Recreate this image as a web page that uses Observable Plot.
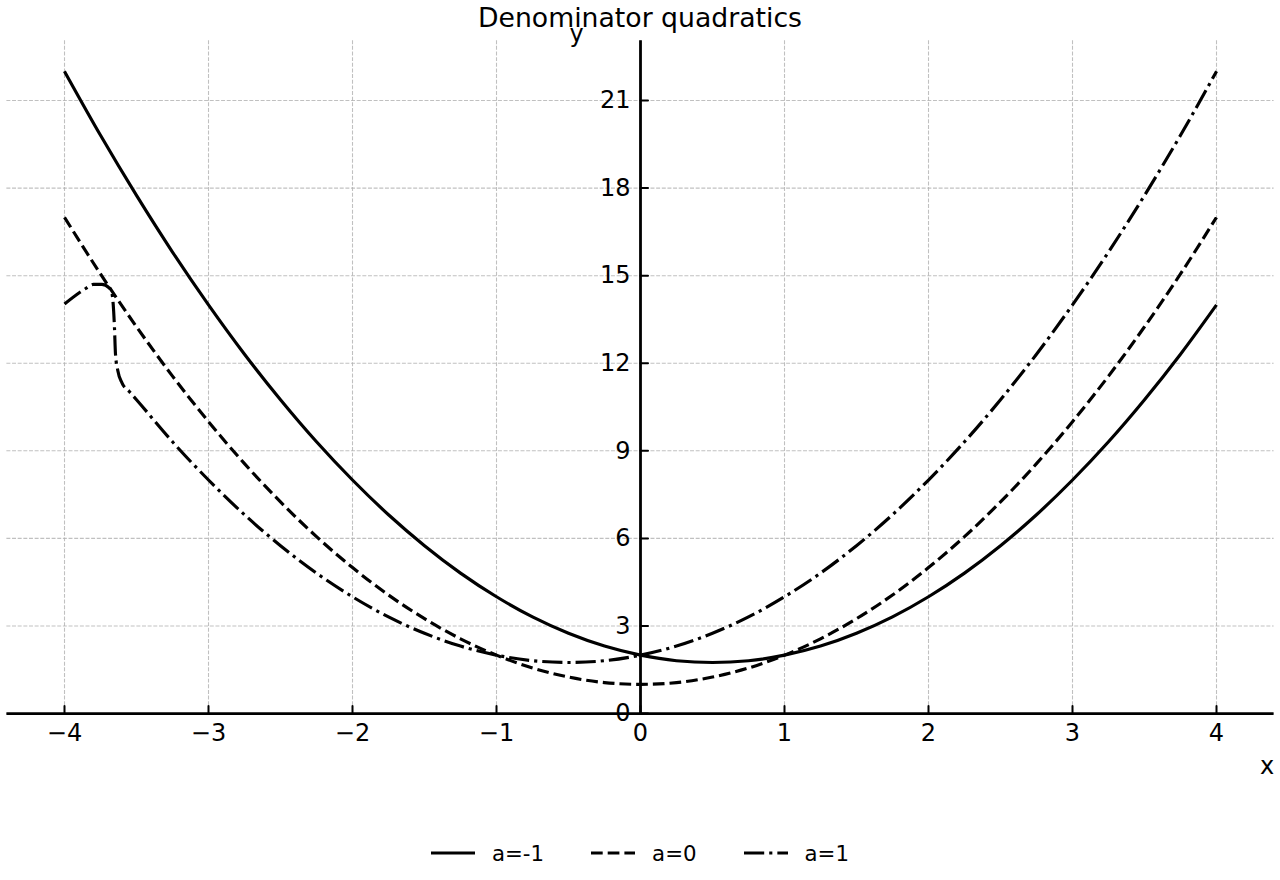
<!DOCTYPE html>
<html>
<head>
<meta charset="utf-8">
<script src="https://cdn.jsdelivr.net/npm/d3@7"></script>
<script src="https://cdn.jsdelivr.net/npm/@observablehq/plot@0.6"></script>
<style>
  html, body { margin: 0; padding: 0; background: #fff; }
  body { width: 1280px; font-family: "DejaVu Sans", sans-serif; color: #000; }
  #title { height: 36px; line-height: 36px; font-size: 26.7px; text-align: center; }
  #chart svg { display: block; overflow: visible; }
  #legend { display: flex; justify-content: center; align-items: center; height: 54px; font-size: 21.3px; gap: 47px; }
  #legend .item { display: flex; align-items: center; }
  #legend .item svg { display: block; margin-right: 17px; }
</style>
</head>
<body>
<div id="title">Denominator quadratics</div>
<div id="chart"></div>
<div id="legend"></div>
<script>
// Shared x samples for the a=-1 and a=0 curves
const xs = [-4, -3.75, -3.5, -3.25, -3, -2.75, -2.5, -2.25, -2, -1.75, -1.5, -1.25, -1, -0.75, -0.5, -0.25,
  0, 0.25, 0.5, 0.75, 1, 1.25, 1.5, 1.75, 2, 2.25, 2.5, 2.75, 3, 3.25, 3.5, 3.75, 4];

// a = -1
const yAm1 = [22, 19.81, 17.75, 15.81, 14, 12.31, 10.75, 9.31, 8, 6.81, 5.75, 4.81, 4, 3.31, 2.75, 2.31,
  2, 1.81, 1.75, 1.81, 2, 2.31, 2.75, 3.31, 4, 4.81, 5.75, 6.81, 8, 9.31, 10.75, 12.31, 14];

// a = 0
const yA0 = [17, 15.06, 13.25, 11.56, 10, 8.56, 7.25, 6.06, 5, 4.06, 3.25, 2.56, 2, 1.56, 1.25, 1.06,
  1, 1.06, 1.25, 1.56, 2, 2.56, 3.25, 4.06, 5, 6.06, 7.25, 8.56, 10, 11.56, 13.25, 15.06, 17];

// a = 1 (its own x samples, denser around the kink near x = -3.65)
const a1X = [-4, -3.89, -3.85, -3.8, -3.74, -3.69, -3.67, -3.662, -3.653, -3.646, -3.63, -3.6, -3.55,
  -3.5, -3.25, -3, -2.75, -2.5, -2.25, -2, -1.75, -1.5, -1.25, -1, -0.75, -0.5, -0.25,
  0, 0.25, 0.5, 0.75, 1, 1.25, 1.5, 1.75, 2, 2.25, 2.5, 2.75, 3, 3.25, 3.5, 3.75, 4];
const a1Y = [14.03, 14.44, 14.57, 14.7, 14.7, 14.58, 14.38, 14.03, 13.23, 12.32, 11.75, 11.32, 11.03,
  10.75, 9.31, 8, 6.81, 5.75, 4.81, 4, 3.31, 2.75, 2.31, 2, 1.81, 1.75, 1.81,
  2, 2.31, 2.75, 3.31, 4, 4.81, 5.75, 6.81, 8, 9.31, 10.75, 12.31, 14, 15.81, 17.75, 19.81, 22];

const seriesLabels = ["a=-1", "a=0", "a=1"];

const xTicks = [-4, -3, -2, -1, 0, 1, 2, 3, 4];
const xTickLabels = ["\u22124", "\u22123", "\u22122", "\u22121", "0", "1", "2", "3", "4"];
const yTicks = [0, 3, 6, 9, 12, 15, 18, 21];
const yTickLabels = ["0", "3", "6", "9", "12", "15", "18", "21"];

// Line styles: solid, dashed, dash-dot
const lineWidth = 3.15;
const dashes = [null, "11.7,5", "20.2,5,3.15,5"];

const tableAm1 = xs.map((x, i) => ({x, y: yAm1[i]}));
const tableA0 = xs.map((x, i) => ({x, y: yA0[i]}));
const tableA1 = a1X.map((x, i) => ({x, y: a1Y[i]}));
const tables = [tableAm1, tableA0, tableA1];

const gridStyle = {stroke: "#b0b0b0", strokeOpacity: 0.8, strokeWidth: 1.07, strokeDasharray: "3.95,1.7"};
const tickShape = {draw(context, l) { context.moveTo(0, 0); context.lineTo(0, -l); }};
const font = "DejaVu Sans";

const chart = Plot.plot({
  width: 1280,
  height: 790,
  marginTop: 4.2,
  marginBottom: 111.5,
  marginLeft: 6.4,
  marginRight: 6.4,
  x: {domain: [-4.4, 4.4], axis: null},
  y: {domain: [-0.05, 23.05], axis: null},
  style: {fontFamily: font, fontSize: "24px", overflow: "visible", background: "white", color: "black"},
  marks: [
    Plot.gridX(xTicks, gridStyle),
    Plot.gridY(yTicks, gridStyle),
    ...tables.map((t, i) => Plot.line(t, {
      x: "x", y: "y",
      stroke: "black",
      strokeWidth: lineWidth,
      strokeDasharray: dashes[i] ?? undefined,
      strokeLinecap: "butt",
      strokeLinejoin: "round",
      curve: "monotone-x"
    })),
    // centred spines
    Plot.ruleY([0], {stroke: "black", strokeWidth: 2.8}),
    Plot.ruleX([0], {stroke: "black", strokeWidth: 2.8}),
    // inward tick marks
    Plot.vector(xTicks, {x: d => d, y: 0, length: 7.5, rotate: 0, anchor: "start", shape: tickShape, stroke: "black", strokeWidth: 2}),
    Plot.vector(yTicks, {x: 0, y: d => d, length: 7.5, rotate: 90, anchor: "start", shape: tickShape, stroke: "black", strokeWidth: 2}),
    // tick labels
    Plot.text(xTicks, {x: d => d, y: 0, text: (d, i) => xTickLabels[i], dy: 20, fontSize: 24, fill: "black"}),
    Plot.text(yTicks, {x: 0, y: d => d, text: (d, i) => yTickLabels[i], dx: -10, textAnchor: "end", fontSize: 24, fill: "black"}),
    // axis labels
    Plot.text(["x"], {y: 0, frameAnchor: "right", textAnchor: "end", dy: 53, fontSize: 24, fill: "black"}),
    Plot.text(["y"], {x: 0, frameAnchor: "top", dx: -64, dy: -16, fontSize: 24, fill: "black"})
  ]
});
document.getElementById("chart").appendChild(chart);

// Legend below the plot
const legend = d3.select("#legend");
seriesLabels.forEach((label, i) => {
  const item = legend.append("div").attr("class", "item");
  const sw = item.append("svg").attr("width", 44).attr("height", 20);
  const ln = sw.append("line")
    .attr("x1", 0).attr("x2", 44).attr("y1", 10).attr("y2", 10)
    .attr("stroke", "black").attr("stroke-width", lineWidth).attr("stroke-linecap", "butt");
  if (dashes[i]) ln.attr("stroke-dasharray", dashes[i]);
  item.append("span").text(label);
});
</script>
</body>
</html>
